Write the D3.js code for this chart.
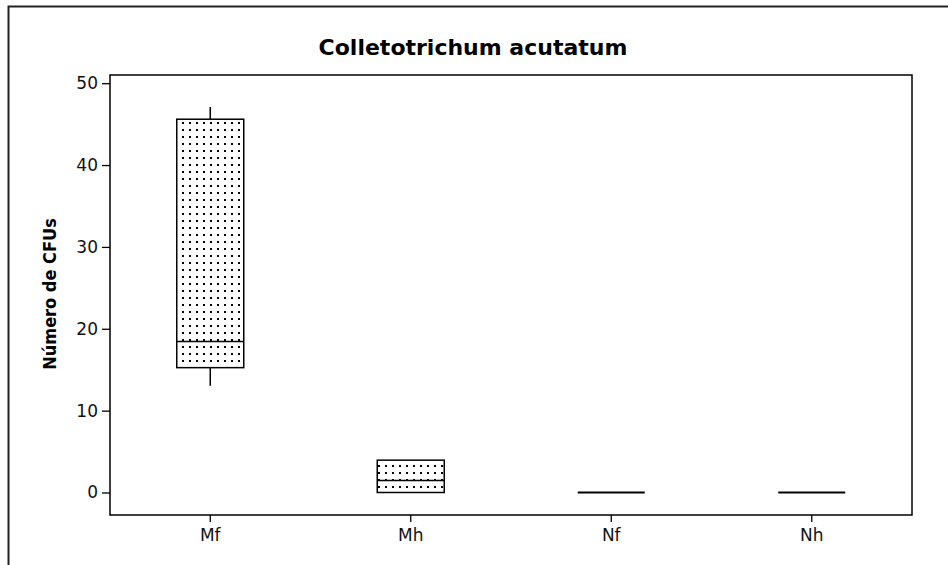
<!DOCTYPE html>
<html>
<head>
<meta charset="utf-8">
<script src="https://cdn.jsdelivr.net/npm/d3@7"></script>
<style>
  html, body { margin: 0; padding: 0; background: #fff; }
  svg { display: block; }
</style>
</head>
<body>
<svg id="chart" width="948" height="565"></svg>
<script>
const categories = ["Mf", "Mh", "Nf", "Nh"];
const whiskerLow  = [13.05, 0, 0, 0];
const q1          = [15.25, 0, 0, 0];
const median      = [18.45, 1.45, 0, 0];
const q3          = [45.6, 3.95, 0, 0];
const whiskerHigh = [47.1, 3.95, 0, 0];
const yTicks = [0, 10, 20, 30, 40, 50];
const title = "Colletotrichum acutatum";
const yLabel = "Número de CFUs";

(function () {
const svg = d3.select("#chart");
const pLeft = 110, pRight = 912, pTop = 75, pBottom = 515;

const x = d3.scaleBand().domain(categories).range([pLeft, pRight]);
const y = d3.scaleLinear().domain([-2.75, 51]).range([pBottom, pTop]);

// outer frame (top and left)
svg.append("path")
  .attr("d", `M8.5,565 L8.5,6.5 L948,6.5`)
  .attr("fill", "none").attr("stroke", "#222").attr("stroke-width", 2);

// dot pattern
const defs = svg.append("defs");
const pat = defs.append("pattern").attr("id", "dots")
  .attr("patternUnits", "userSpaceOnUse")
  .attr("x", 182).attr("y", 122)
  .attr("width", 7).attr("height", 7);
pat.append("rect").attr("width", 7).attr("height", 7).attr("fill", "#fff");
pat.append("rect").attr("x", 0).attr("y", 0).attr("width", 2).attr("height", 2).attr("fill", "#000");

// plot frame
svg.append("rect")
  .attr("x", pLeft).attr("y", pTop)
  .attr("width", pRight - pLeft).attr("height", pBottom - pTop)
  .attr("fill", "none").attr("stroke", "#000").attr("stroke-width", 1.5);

// axes
const yAxis = svg.append("g").attr("transform", `translate(${pLeft},0)`)
  .call(d3.axisLeft(y).tickValues(yTicks).tickSize(8).tickPadding(4));
yAxis.select(".domain").remove();
yAxis.selectAll("line").attr("stroke", "#000").attr("stroke-width", 1.3);
yAxis.selectAll("text").attr("font-family", "DejaVu Sans, Verdana, sans-serif")
  .attr("font-size", 17).attr("fill", "#111");

const xAxis = svg.append("g").attr("transform", `translate(0,${pBottom})`)
  .call(d3.axisBottom(x).tickSize(7).tickPadding(7));
xAxis.select(".domain").remove();
xAxis.selectAll("line").attr("stroke", "#000").attr("stroke-width", 1.3);
xAxis.selectAll("text").attr("font-family", "DejaVu Sans, Verdana, sans-serif")
  .attr("font-size", 17).attr("fill", "#111");

// boxes
const boxW = 67;
categories.forEach((c, i) => {
  const cx = x(c) + x.bandwidth() / 2;
  const g = svg.append("g");
  if (q3[i] - q1[i] > 0) {
    g.append("line").attr("x1", cx).attr("x2", cx)
      .attr("y1", y(q3[i])).attr("y2", y(whiskerHigh[i]))
      .attr("stroke", "#000").attr("stroke-width", 1.5);
    g.append("line").attr("x1", cx).attr("x2", cx)
      .attr("y1", y(q1[i])).attr("y2", y(whiskerLow[i]))
      .attr("stroke", "#000").attr("stroke-width", 1.5);
    g.append("rect")
      .attr("x", cx - boxW / 2).attr("y", y(q3[i]))
      .attr("width", boxW).attr("height", y(q1[i]) - y(q3[i]))
      .attr("fill", "url(#dots)").attr("stroke", "#000").attr("stroke-width", 1.5);
    g.append("line").attr("x1", cx - boxW / 2).attr("x2", cx + boxW / 2)
      .attr("y1", y(median[i])).attr("y2", y(median[i]))
      .attr("stroke", "#000").attr("stroke-width", 1.5);
  } else {
    g.append("line").attr("x1", cx - boxW / 2).attr("x2", cx + boxW / 2)
      .attr("y1", y(median[i])).attr("y2", y(median[i]))
      .attr("stroke", "#000").attr("stroke-width", 2);
  }
});

// title
svg.append("text")
  .attr("x", 473).attr("y", 55)
  .attr("text-anchor", "middle")
  .attr("font-family", "DejaVu Sans, sans-serif")
  .attr("font-weight", "bold").attr("font-size", 22).attr("fill", "#000")
  .text(title);

// y label
svg.append("text")
  .attr("transform", `translate(56,294) rotate(-90)`)
  .attr("text-anchor", "middle")
  .attr("font-family", "DejaVu Sans Condensed, DejaVu Sans, sans-serif")
  .attr("font-weight", "bold").attr("font-size", 18).attr("fill", "#000")
  .text(yLabel);
})();
</script>
</body>
</html>
